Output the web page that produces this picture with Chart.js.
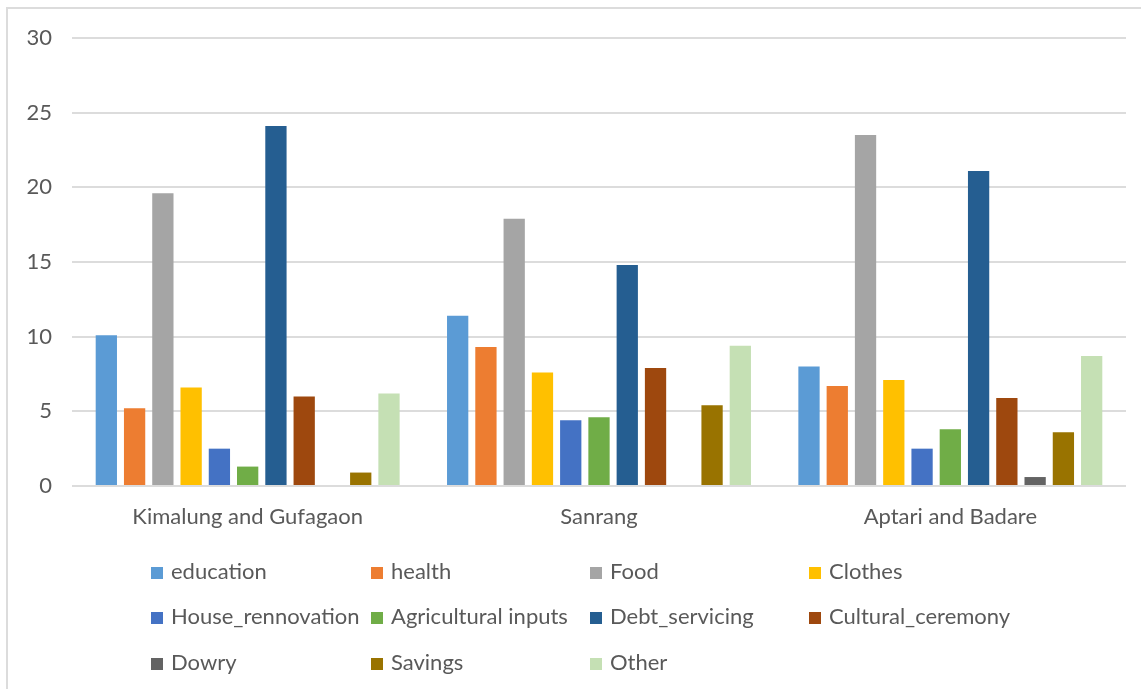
<!DOCTYPE html>
<html>
<head>
<meta charset="utf-8">
<script src="https://cdn.jsdelivr.net/npm/chart.js@4"></script>
<style>
  body { margin: 0; background: #fff; }
  #wrap { position: relative; width: 1141px; height: 689px; background: #fff; overflow: hidden; }
  /* thin frame on the top and left edge */
  #frame { position: absolute; left: 6px; top: 7px; right: -4px; bottom: -4px; border-top: 2px solid #dcdcdc; border-left: 2px solid #dcdcdc; }
  #chartcanvas { position: absolute; left: 0; top: 0; }
  #legend { position: absolute; left: 0; top: 0; width: 1141px; height: 689px; pointer-events: none; }
  .item { position: absolute; height: 26px; line-height: 26px; font-family: Lato, sans-serif; font-size: 22px; color: #595959; white-space: nowrap; }
  .box { display: inline-block; width: 12px; height: 12px; margin-right: 8px; vertical-align: 0px; }
</style>
</head>
<body>
<div id="wrap">
  <div id="frame"></div>
  <canvas id="chartcanvas" width="1141" height="545"></canvas>
  <div id="legend"></div>
</div>
<script>
// DATA -------------------------------------------------------------
var villages = ["Kimalung and Gufagaon", "Sanrang", "Aptari and Badare"];

var education = [10.1, 11.4, 8.0];
var health = [5.2, 9.3, 6.7];
var food = [19.6, 17.9, 23.5];
var clothes = [6.6, 7.6, 7.1];
var houseRenovation = [2.5, 4.4, 2.5];
var agriInputs = [1.3, 4.6, 3.8];
var debtServicing = [24.1, 14.8, 21.1];
var culturalCeremony = [6.0, 7.9, 5.9];
var dowry = [0, 0, 0.6];
var savings = [0.9, 5.4, 3.6];
var other = [6.2, 9.4, 8.7];

var yTicks = [0, 5, 10, 15, 20, 25, 30];

// series names, values and colours in legend order
var seriesNames = ["education", "health", "Food", "Clothes", "House_rennovation", "Agricultural inputs",
    "Debt_servicing", "Cultural_ceremony", "Dowry", "Savings", "Other"];
var seriesValues = [education, health, food, clothes, houseRenovation, agriInputs,
    debtServicing, culturalCeremony, dowry, savings, other];
var seriesColors = ["#5B9BD5", "#ED7D31", "#A5A5A5", "#FFC000", "#4472C4", "#70AD47",
    "#255E91", "#9E480E", "#636363", "#997300", "#C5E0B4"];

// BUILD DATASETS ---------------------------------------------------
var datasets = [];
for (var i = 0; i < seriesNames.length; i++) {
    datasets.push({
        label: seriesNames[i],
        data: seriesValues[i],
        backgroundColor: seriesColors[i],
        borderWidth: 0,
        barPercentage: 0.753,
        categoryPercentage: 0.885
    });
}

var textColor = "#595959";
var labelFont = { family: "Lato, sans-serif", size: 22 };

new Chart("chartcanvas", {
    type: "bar",
    data: { labels: villages, datasets: datasets },
    options: {
        responsive: false,
        animation: false,
        layout: { padding: { left: 0, right: 15, top: 38, bottom: 0 } },
        plugins: {
            legend: { display: false },
            tooltip: { enabled: false }
        },
        scales: {
            x: {
                grid: { display: false, drawTicks: false },
                border: { display: false },
                ticks: { color: textColor, font: labelFont, padding: 18, maxRotation: 0 },
                afterFit: function (scale) { scale.height = 59; }
            },
            y: {
                min: 0,
                max: 30,
                afterBuildTicks: function (scale) {
                    scale.ticks = yTicks.map(function (v) { return { value: v }; });
                },
                grid: { color: "#dcdcdc", lineWidth: 2, drawTicks: false },
                border: { display: false },
                ticks: { color: textColor, font: labelFont, padding: 20 },
                afterFit: function (scale) { scale.width = 72; }
            }
        }
    }
});

// LEGEND: 4 columns, 3 rows below the plot
var legendDiv = document.getElementById("legend");
var colX = [151, 371, 590, 809];
var rowY = [571, 616, 662];
for (var j = 0; j < seriesNames.length; j++) {
    var item = document.createElement("div");
    item.className = "item";
    item.style.left = colX[j % 4] + "px";
    item.style.top = (rowY[Math.floor(j / 4)] - 13) + "px";
    var box = document.createElement("span");
    box.className = "box";
    box.style.background = seriesColors[j];
    item.appendChild(box);
    item.appendChild(document.createTextNode(seriesNames[j]));
    legendDiv.appendChild(item);
}
</script>
</body>
</html>
